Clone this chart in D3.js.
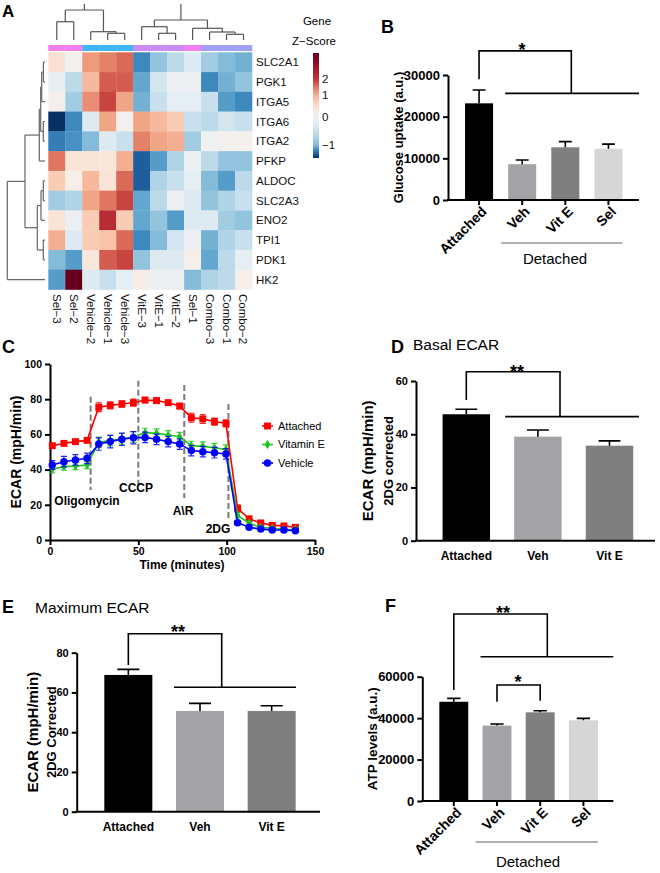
<!DOCTYPE html>
<html>
<head>
<meta charset="utf-8">
<script src="https://cdn.jsdelivr.net/npm/d3@7"></script>
<style>
  body { margin: 0; background: #fff; }
  text { font-family: "Liberation Sans", Arial, sans-serif; }
</style>
</head>
<body>
<svg id="fig" width="660" height="873"></svg>
<script>
// ---------- Panel A data ----------
const genes = ["SLC2A1", "PGK1", "ITGA5", "ITGA6", "ITGA2", "PFKP", "ALDOC", "SLC2A3", "ENO2", "TPI1", "PDK1", "HK2"];
const samples = ["Sel\u22123", "Sel\u22122", "Vehicle\u22122", "Vehicle\u22121", "Vehicle\u22123", "VitE\u22123", "VitE\u22121", "VitE\u22122", "Sel\u22121", "Combo\u22123", "Combo\u22121", "Combo\u22122"];
const sampleGroup = ["Sel", "Sel", "Vehicle", "Vehicle", "Vehicle", "VitE", "VitE", "VitE", "Sel", "Combo", "Combo", "Combo"];
const zscores = [
  [0.4, 0.0, 1.2, 1.4, 1.6, -1.5, -0.9, -0.6, -0.3, -0.8, -1.0, -1.1],
  [-0.2, -0.6, 0.9, 1.7, 1.7, -1.2, -0.4, -0.1, -0.1, -1.5, -1.1, -0.9],
  [0.05, -0.8, 1.3, 1.9, 1.1, -1.1, -0.5, -0.2, -0.2, -0.5, -1.3, -1.5],
  [-2.3, -1.5, -0.3, 1.1, 0.05, 1.1, 0.9, 0.7, -0.5, -0.6, -0.4, -0.5],
  [-1.6, -1.4, -1.0, -0.3, -0.5, 1.4, 1.1, 1.0, -0.8, -0.05, 0.02, 0.02],
  [1.5, 0.35, 0.35, 0.3, 1.0, -1.9, -1.3, -0.7, -0.1, -0.6, -0.9, -0.9],
  [0.7, 0.1, 0.9, 0.35, 1.6, -1.9, -0.7, -0.5, -0.2, -1.0, -1.3, -0.6],
  [-0.8, -0.7, 1.1, 1.5, 1.9, -1.2, -0.6, -0.1, -0.3, -0.9, -0.7, -0.5],
  [0.35, -0.1, 0.7, 2.1, 0.7, -1.2, -0.9, -1.3, -0.3, -0.3, -0.8, -0.9],
  [1.0, -0.3, 0.7, 0.8, 1.6, -1.5, -1.0, -0.4, -0.1, -1.1, -0.7, -0.5],
  [-1.0, -1.3, 0.3, 1.7, 1.9, -0.9, -0.3, -0.3, 0.1, -1.2, -0.6, -0.2],
  [-1.3, 2.8, -0.3, -0.5, -0.2, 0.15, -0.1, -0.1, -1.0, -0.7, -0.6, 0.1]
];
// dendrograms: [height, left, right]; leaves are indices
const colTree = [36, [30, [18.3, 0, 1], [8.3, 2, [6.7, 3, 4]]], [20, [13.3, 5, [6.7, 6, 7]], [11.7, 8, [8, 9, [5.7, 10, 11]]]]];
const rowTree = [37.7, [20, [5.7, [4.3, [3.3, [1.6, 0, 1], 2], [1.7, 3, 4]], 5], [7.7, [4, [1.7, 6, 7], 8], [1.7, 9, 10]]], 11];
const legendTicks = [2, 1, 0, -1];

// ---------- Panel B data ----------
const glucoseCats = ["Attached", "Veh", "Vit E", "Sel"];
const glucoseVals = [23200, 8600, 12650, 12300];
const glucoseErr = [3200, 1000, 1350, 1100];

// ---------- Panel C data ----------
const timeMin = [1.3, 7.9, 14.4, 21, 27.6, 34.1, 40.7, 47.2, 53.8, 60.3, 66.9, 73.4, 80, 86.5, 93.1, 99.6, 106.2, 112.7, 119.3, 125.8, 132.4, 138.9];
const ecarAttached = [53.6, 54.9, 55.9, 56.6, 75.4, 76.5, 77.3, 78, 79.5, 79.2, 78, 76.1, 69.5, 68.8, 67.2, 66.3, 18, 12, 9.7, 8.3, 8, 7.2];
const errAttached = [1.2, 1, 1, 1.2, 2.5, 2, 1.8, 2, 1.5, 1.5, 1.5, 1.5, 2.5, 2.5, 2, 2, 2, 1.5, 1.2, 1, 1, 1];
const ecarVitE = [40.2, 41.7, 42, 42.6, 55.5, 56.5, 57.5, 58.5, 61, 60.6, 59.7, 58.7, 53.6, 53.2, 52.4, 51.5, 14, 9.5, 7.2, 6.6, 6.1, 6];
const errVitE = [2, 2, 2, 2, 3, 3, 3, 3, 2.5, 2.5, 2.5, 2.5, 2.5, 2.5, 2.5, 2.5, 1.5, 1.2, 1, 1, 1, 1];
const ecarVehicle = [42.6, 44.5, 45.5, 46.4, 54.5, 55.9, 57.2, 58.1, 58.3, 57.2, 55.9, 54.5, 50.8, 50.2, 49.6, 48.9, 9.8, 7.2, 6.2, 5.7, 5.7, 5.3];
const errVehicle = [2.5, 3, 3, 3, 3.5, 3.5, 3.5, 3.5, 3, 3, 3, 3, 3, 3, 3, 3, 1.2, 1, 1, 1, 1, 1];
const injections = ["Oligomycin", "CCCP", "A\\R", "2DG"];
const injectTime = [23, 50, 76, 101];

// ---------- Panel D / E / F data ----------
const ecarCats = ["Attached", "Veh", "Vit E"];
const basalVals = [47.5, 39.1, 35.7];
const basalErr = [1.9, 2.5, 1.8];
const maxVals = [68.8, 50.7, 50.7];
const maxErr = [2.8, 3.8, 2.6];
const atpCats = ["Attached", "Veh", "Vit E", "Sel"];
const atpVals = [47900, 36400, 42800, 38950];
const atpErr = [1650, 800, 800, 950];

const barColors = { "Attached": "#000000", "Veh": "#a4a4a8", "Vit E": "#7f7f7f", "Sel": "#d6d6d6" };

const svg = d3.select("#fig");

function panelLetter(t, x, y, size = 18) {
  svg.append("text").attr("x", x).attr("y", y).attr("font-size", size)
    .attr("font-weight", "bold").text(t);
}

// ================= Panel A: heatmap =================
const heat = d3.scaleDiverging(d3.interpolateRdBu).domain([2.8, 0, -2.3]);
const hx = d3.scaleBand(samples, [48.3, 252]);
const hy = d3.scaleBand(genes, [52.3, 289.5]);
const gA = svg.append("g");
panelLetter("A", 2, 17, 17);

genes.forEach((gname, r) => {
  gA.selectAll(null).data(zscores[r]).join("rect")
    .attr("x", (d, i) => hx(samples[i]))
    .attr("y", hy(gname))
    .attr("width", hx.bandwidth() + 0.3)
    .attr("height", hy.bandwidth() + 0.3)
    .attr("fill", (d) => heat(d));
});

const groupColor = d3.scaleOrdinal(["Sel", "Vehicle", "VitE", "Combo"], ["#f27ef0", "#3db5f6", "#c98cf3", "#9fa0f7"]);
gA.selectAll(null).data(samples).join("rect")
  .attr("x", (d) => hx(d)).attr("y", 45)
  .attr("width", hx.bandwidth() + 0.3).attr("height", 6)
  .attr("fill", (d, i) => groupColor(sampleGroup[i]));

gA.selectAll(null).data(genes).join("text")
  .attr("x", 256).attr("y", (d) => hy(d) + hy.bandwidth() / 2)
  .attr("dy", "0.35em").attr("font-size", 11.5).attr("fill", "#111").text((d) => d);

gA.selectAll(null).data(samples).join("text")
  .attr("transform", (d) => `translate(${hx(d) + hx.bandwidth() / 2},294) rotate(90)`)
  .attr("dy", "0.35em").attr("font-size", 11.5).attr("fill", "#111").text((d) => d);

function drawTree(g, tree, leafPos, hs, vertical, stroke) {
  const segs = [];
  const pt = vertical ? (p, h) => [p, hs(h)] : (p, h) => [hs(h), p];
  function walk(node, isRoot) {
    if (typeof node === "number") return { p: leafPos(node), h: 0 };
    const [h, a, b] = node;
    const A = walk(a), B = walk(b);
    segs.push([pt(A.p, A.h), pt(A.p, h)]);
    segs.push([pt(B.p, B.h), pt(B.p, h)]);
    if (!isRoot || !vertical) segs.push([pt(A.p, h), pt(B.p, h)]);
    return { p: (A.p + B.p) / 2, h };
  }
  walk(tree, true);
  g.selectAll(null).data(segs).join("path")
    .attr("d", (d) => d3.line()(d))
    .attr("stroke", stroke).attr("stroke-width", 1.2).attr("fill", "none");
}
drawTree(gA, colTree, (i) => hx(samples[i]) + hx.bandwidth() / 2,
  d3.scaleLinear([0, 36], [40, 4]), true, "#555");
drawTree(gA, rowTree, (i) => hy(genes[i]) + hy.bandwidth() / 2,
  d3.scaleLinear([0, 37.7], [45, 7.3]), false, "#666");

// colour key
const keyY = d3.scaleLinear([2.8, 2, 1, 0, -1, -2.3], [53, 79, 95, 117, 145, 158]);
const defs = svg.append("defs");
const grad = defs.append("linearGradient").attr("id", "keygrad")
  .attr("x1", 0).attr("x2", 0).attr("y1", 0).attr("y2", 1);
grad.selectAll("stop").data(d3.range(0, 1.0001, 0.02)).join("stop")
  .attr("offset", (d) => d)
  .attr("stop-color", (d) => heat(keyY.invert(53 + d * (158 - 53))));
gA.append("rect").attr("x", 313).attr("y", 53).attr("width", 6).attr("height", 105)
  .attr("fill", "url(#keygrad)");
gA.selectAll(null).data(legendTicks).join("text")
  .attr("x", 322).attr("y", (d) => keyY(d)).attr("dy", "0.35em")
  .attr("font-size", 11.5).attr("fill", "#111").text((d) => String(d).replace("-", "\u2212"));
gA.append("text").attr("x", 317).attr("y", 25).attr("text-anchor", "middle").attr("font-size", 11.5).text("Gene");
gA.append("text").attr("x", 314).attr("y", 45).attr("text-anchor", "middle").attr("font-size", 11.5).text("Z\u2212Score");

// ================= bar chart helper =================
function styleAxis(sel, fs) {
  sel.select(".domain").attr("stroke-width", 2);
  sel.selectAll(".tick line").attr("stroke-width", 2);
  sel.selectAll(".tick text").attr("font-size", fs).attr("font-weight", "bold").attr("fill", "#000");
}

function barPanel(o) {
  const g = svg.append("g");
  const x = d3.scaleBand(o.cats, o.band).paddingInner(o.pad).paddingOuter(o.pad / 2);
  const y = d3.scaleLinear([0, o.yMax], [o.y0, o.y1]);
  const cx = (c) => x(c) + x.bandwidth() / 2;
  const capW = x.bandwidth() * 0.46;

  g.selectAll("rect.bar").data(o.cats).join("rect").attr("class", "bar")
    .attr("x", (d) => x(d)).attr("width", x.bandwidth())
    .attr("y", (d, i) => y(o.vals[i])).attr("height", (d, i) => y(0) - y(o.vals[i]))
    .attr("fill", (d) => barColors[d]);
  g.selectAll("path.err").data(o.cats).join("path").attr("class", "err")
    .attr("d", (d, i) => {
      const top = y(o.vals[i] + o.errs[i]);
      return `M${cx(d)},${y(o.vals[i])}V${top}M${cx(d) - capW / 2},${top}H${cx(d) + capW / 2}`;
    })
    .attr("stroke", "#000").attr("stroke-width", 1.6).attr("fill", "none");

  const ya = g.append("g").attr("transform", `translate(${o.ax},0)`)
    .call(d3.axisLeft(y).tickValues(o.ticks).tickSize(5).tickSizeOuter(0).tickPadding(3).tickFormat(d3.format("d")));
  styleAxis(ya, o.tickFs);
  g.append("line").attr("x1", o.ax - 1).attr("x2", o.axEnd).attr("y1", y(0)).attr("y2", y(0))
    .attr("stroke", "#000").attr("stroke-width", 2);
  if (o.xTicks) {
    g.selectAll("line.xt").data(o.cats).join("line").attr("class", "xt")
      .attr("x1", cx).attr("x2", cx).attr("y1", y(0)).attr("y2", y(0) + 5)
      .attr("stroke", "#000").attr("stroke-width", 2);
  }
  if (o.rotate) {
    g.selectAll("text.xl").data(o.cats).join("text").attr("class", "xl")
      .attr("transform", (d) => `translate(${cx(d) + 5},${y(0) + 9}) rotate(-45)`)
      .attr("text-anchor", "end").attr("dy", "0.35em")
      .attr("font-size", o.labelFs).attr("font-weight", "bold").text((d) => d);
  } else {
    g.selectAll("text.xl").data(o.cats).join("text").attr("class", "xl")
      .attr("x", cx).attr("y", y(0) + 19).attr("text-anchor", "middle")
      .attr("font-size", o.labelFs).attr("font-weight", "bold").text((d) => d);
  }
  // y labels
  o.yLabels.forEach((lab) => {
    g.append("text").attr("transform", `translate(${lab.x},${(y(0) + y(o.yMax)) / 2}) rotate(-90)`)
      .attr("text-anchor", "middle").attr("font-size", lab.fs).attr("font-weight", "bold").text(lab.t);
  });
  return { g, x, y, cx };
}

function bracket(g, x1, yTop, y1, x2, y2) {
  g.append("path").attr("d", `M${x1},${y1}V${yTop}H${x2}V${y2}`)
    .attr("stroke", "#000").attr("stroke-width", 1.6).attr("fill", "none");
}
function hline(g, xa, xb, yv, color = "#000") {
  g.append("line").attr("x1", xa).attr("x2", xb).attr("y1", yv).attr("y2", yv)
    .attr("stroke", color).attr("stroke-width", 1.6);
}
function star(g, t, x, yv) {
  g.append("text").attr("x", x).attr("y", yv).attr("text-anchor", "middle")
    .attr("font-size", 18).attr("font-weight", "bold").text(t);
}

// ================= Panel B =================
panelLetter("B", 381, 33);
const B = barPanel({
  cats: glucoseCats, vals: glucoseVals, errs: glucoseErr,
  band: [457.5, 630], pad: 0.35, yMax: 30000, y0: 200, y1: 75,
  ticks: [0, 10000, 20000, 30000], ax: 448, axEnd: 639, tickFs: 13, labelFs: 14,
  xTicks: true, rotate: true,
  yLabels: [{ t: "Glucose uptake (a.u.)", x: 403, fs: 13 }]
});
bracket(B.g, B.cx("Attached"), B.y(35800), B.y(29000), B.cx("Vit E") + 6, B.y(25600));
hline(B.g, B.x("Veh") - 3, 639, B.y(25600));
star(B.g, "*", 522, 56);
hline(B.g, B.x("Veh") - 7, B.x("Sel") + B.x.bandwidth(), 243, "#999");
B.g.append("text").attr("x", 555).attr("y", 264).attr("text-anchor", "middle").attr("font-size", 15).text("Detached");

// ================= Panel C =================
panelLetter("C", 2, 353);
const gC = svg.append("g");
const cxs = d3.scaleLinear([0, 150], [50, 315]);
const cys = d3.scaleLinear([0, 100], [540, 364]);
const xa = gC.append("g").attr("transform", "translate(0,540)")
  .call(d3.axisBottom(cxs).tickValues([0, 50, 100, 150]).tickSize(5).tickSizeOuter(0));
styleAxis(xa, 10.5);
const yaC = gC.append("g").attr("transform", "translate(50,0)")
  .call(d3.axisLeft(cys).tickValues([0, 20, 40, 60, 80, 100]).tickSize(5).tickSizeOuter(0));
styleAxis(yaC, 10.5);
gC.append("text").attr("x", 182).attr("y", 569).attr("text-anchor", "middle")
  .attr("font-size", 12).attr("font-weight", "bold").text("Time (minutes)");
gC.append("text").attr("transform", "translate(21,452) rotate(-90)").attr("text-anchor", "middle")
  .attr("font-size", 14).attr("font-weight", "bold").text("ECAR (mpH/min)");

// injection lines
const injTop = [81.4, 90.5, 88, 77.3];
const injBot = [28.4, 31.3, 23.9, 11.4];
gC.selectAll("line.inj").data(injectTime).join("line").attr("class", "inj")
  .attr("x1", (d) => cxs(d)).attr("x2", (d) => cxs(d))
  .attr("y1", (d, i) => cys(injTop[i])).attr("y2", (d, i) => cys(injBot[i]))
  .attr("stroke", "#7a7a7a").attr("stroke-width", 2).attr("stroke-dasharray", "6,3");
const injLabelPos = [[87, 20], [136, 27], [183, 14], [218, 4]];
gC.selectAll("text.inj").data(injections).join("text").attr("class", "inj")
  .attr("x", (d, i) => injLabelPos[i][0]).attr("y", (d, i) => cys(injLabelPos[i][1]))
  .attr("text-anchor", "middle").attr("font-size", 12).attr("font-weight", "bold").text((d) => d);

const seriesC = [
  { name: "Attached", vals: ecarAttached, errs: errAttached, color: "#ff0000", shape: d3.symbolSquare, size: 48 },
  { name: "Vitamin E", vals: ecarVitE, errs: errVitE, color: "#1fc41f", shape: d3.symbolDiamond, size: 26 },
  { name: "Vehicle", vals: ecarVehicle, errs: errVehicle, color: "#0000ff", shape: d3.symbolCircle, size: 44 }
];
seriesC.forEach((s) => {
  const sg = gC.append("g");
  const pts = timeMin.map((t, i) => ({ t, v: s.vals[i], e: s.errs[i] }));
  sg.selectAll("path.eb").data(pts).join("path").attr("class", "eb")
    .attr("d", (d) => `M${cxs(d.t)},${cys(d.v - d.e)}V${cys(d.v + d.e)}M${cxs(d.t) - 3},${cys(d.v - d.e)}h6M${cxs(d.t) - 3},${cys(d.v + d.e)}h6`)
    .attr("stroke", s.color).attr("stroke-width", 1.2).attr("fill", "none").attr("opacity", 0.85);
  sg.append("path").datum(pts)
    .attr("d", d3.line().x((d) => cxs(d.t)).y((d) => cys(d.v)))
    .attr("stroke", s.color).attr("stroke-width", 1.6).attr("fill", "none");
  sg.selectAll("path.pt").data(pts).join("path").attr("class", "pt")
    .attr("transform", (d) => `translate(${cxs(d.t)},${cys(d.v)})`)
    .attr("d", d3.symbol(s.shape, s.size)).attr("fill", s.color);
});
const leg = gC.selectAll("g.leg").data(seriesC).join("g").attr("class", "leg")
  .attr("transform", (d, i) => `translate(262,${426 + i * 18.5})`);
leg.append("line").attr("x1", 0).attr("x2", 11).attr("stroke", (d) => d.color).attr("stroke-width", 1.6);
leg.append("path").attr("transform", "translate(5.5,0)")
  .attr("d", (d) => d3.symbol(d.shape, d.size)()).attr("fill", (d) => d.color);
leg.append("text").attr("x", 16).attr("dy", "0.35em").attr("font-size", 11).text((d) => d.name);

// ================= Panel D =================
panelLetter("D", 391, 353);
svg.append("text").attr("x", 413).attr("y", 350).attr("font-size", 15.5).text("Basal ECAR");
const D = barPanel({
  cats: ecarCats, vals: basalVals, errs: basalErr,
  band: [430.5, 645.3], pad: 0.337, yMax: 60, y0: 540.7, y1: 381,
  ticks: [0, 20, 40, 60], ax: 416, axEnd: 655, tickFs: 11, labelFs: 12,
  xTicks: false, rotate: false,
  yLabels: [{ t: "ECAR (mpH/min)", x: 373, fs: 15 }, { t: "2DG corrected", x: 393, fs: 13 }]
});
bracket(D.g, D.cx("Attached"), D.y(63.5), D.y(52.9), 560, D.y(46.6));
hline(D.g, D.x("Veh") - 9, 639, D.y(46.6));
star(D.g, "**", 517, 378);

// ================= Panel E =================
panelLetter("E", 2, 613);
svg.append("text").attr("x", 35).attr("y", 613).attr("font-size", 15.5).text("Maximum ECAR");
const E = barPanel({
  cats: ecarCats, vals: maxVals, errs: maxErr,
  band: [92.5, 307.5], pad: 0.33, yMax: 80, y0: 811.7, y1: 652.7,
  ticks: [0, 20, 40, 60, 80], ax: 76.7, axEnd: 320, tickFs: 11, labelFs: 12,
  xTicks: false, rotate: false,
  yLabels: [{ t: "ECAR (mpH/min)", x: 38, fs: 15 }, { t: "2DG Corrected", x: 56, fs: 13 }]
});
bracket(E.g, E.cx("Attached"), E.y(89.5), E.y(73.8), 221.7, E.y(62.6));
hline(E.g, E.x("Veh") - 2, 296, E.y(62.6));
star(E.g, "**", 178, 638);

// ================= Panel F =================
panelLetter("F", 385, 612);
const F = barPanel({
  cats: atpCats, vals: atpVals, errs: atpErr,
  band: [432.2, 605], pad: 0.33, yMax: 60000, y0: 801, y1: 676.7,
  ticks: [0, 20000, 40000, 60000], ax: 422.3, axEnd: 613.3, tickFs: 13, labelFs: 14,
  xTicks: true, rotate: true,
  yLabels: [{ t: "ATP levels (a.u.)", x: 377, fs: 13.5 }]
});
bracket(F.g, F.cx("Attached"), F.y(90300), F.y(53600), 547.3, F.y(69650));
hline(F.g, F.x("Veh") - 2, 613.3, F.y(69650));
star(F.g, "**", 503, 619);
bracket(F.g, F.cx("Veh"), F.y(56000), F.y(47900), F.cx("Vit E"), F.y(48400));
star(F.g, "*", 518, 688);
hline(F.g, F.x("Veh") - 7, F.x("Sel") + F.x.bandwidth(), 842, "#999");
F.g.append("text").attr("x", 528).attr("y", 867).attr("text-anchor", "middle").attr("font-size", 15).text("Detached");
</script>
</body>
</html>
